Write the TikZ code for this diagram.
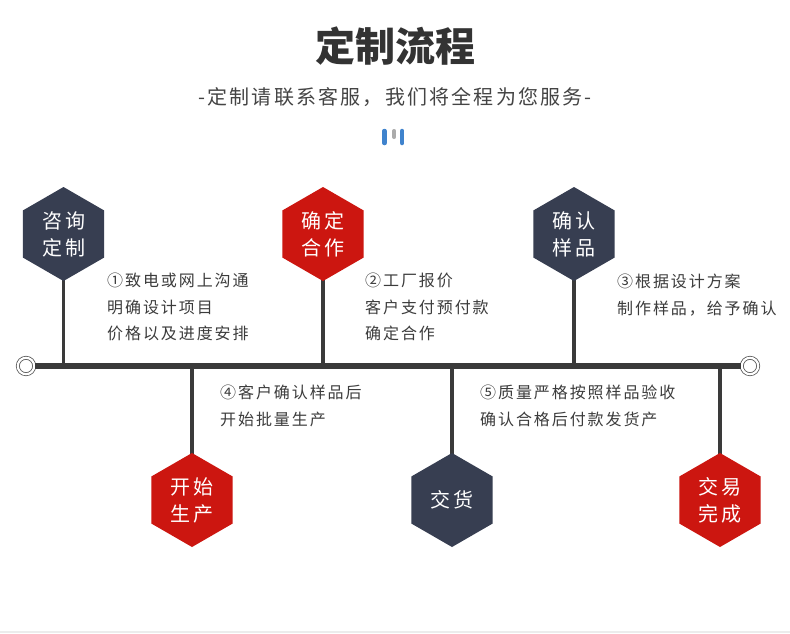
\documentclass[tikz,border=0pt]{standalone}
\usepackage{fontspec}
\setmainfont{Noto Sans CJK SC}
\usetikzlibrary{shapes.geometric,backgrounds}
\definecolor{navy}{HTML}{373E51}
\definecolor{redc}{HTML}{CC1610}
\definecolor{linec}{HTML}{3A3A3A}
\definecolor{txt}{HTML}{3C3C3C}
\definecolor{titlec}{HTML}{333333}
\definecolor{subc}{HTML}{444444}
\definecolor{bluebar}{HTML}{3F83CD}
\definecolor{graybar}{HTML}{ABABAB}
\definecolor{footc}{HTML}{ECECEC}
\begin{document}
\begin{tikzpicture}[x=1pt,y=-1pt,
 hexbox/.style={regular polygon, regular polygon sides=6, shape border rotate=30,
   minimum size=94pt, inner sep=0pt, text=white, align=center,
   font=\fontsize{20}{27}\selectfont\addfontfeature{LetterSpace=15}},
 navyhex/.style={hexbox, fill=navy},
 redhex/.style={hexbox, fill=redc},
 stem/.style={draw=linec, line width=3.5pt},
 mainline/.style={draw=linec, line width=6pt},
 endcirc/.style={circle, draw=black!65, line width=0.8pt, double=white,
   double distance=2.2pt, fill=white, minimum size=16.4pt, inner sep=0pt},
 desc/.style={anchor=north west, inner sep=0pt, align=left, text=txt,
   font=\fontsize{16}{26.5}\selectfont\addfontfeature{LetterSpace=12}},
 bar/.style={line width=4.5pt, line cap=round}
]
\useasboundingbox (0,0) rectangle (790,633);
\begin{scope}[on background layer]
\fill[white] (0,0) rectangle (790,633);
\end{scope}

% header
\node[font=\fontsize{40}{40}\selectfont\bfseries, text=titlec] (title) at (395,46) {定制流程};
\node[font=\fontsize{20}{20}\selectfont\addfontfeature{LetterSpace=11}, text=subc] (sub) at (395,97) {-定制请联系客服，我们将全程为您服务-};
\draw[bar, bluebar] (384.5,131) -- (384.5,143);
\draw[bar, graybar, line width=4pt] (394.2,131) -- (394.2,137);
\draw[bar, bluebar] (402.2,131) -- (402.2,143);

% end circles and main line
\node[endcirc] (cl) at (26,366) {};
\node[endcirc] (cr) at (750,366) {};
\draw[mainline] (cl) -- (cr);

% hexagons
\node[navyhex] (h1) at (63.5,234) {咨询\\定制};
\node[redhex]  (h2) at (323,234) {确定\\合作};
\node[navyhex] (h3) at (574,234) {确认\\样品};
\node[redhex]  (h4) at (192,500) {开始\\生产};
\node[navyhex] (h5) at (452,500) {交货};
\node[redhex]  (h6) at (720,500) {交易\\完成};

\begin{scope}[on background layer]
\foreach \h in {h1,h2,h3,h4,h5,h6}{
  \draw[stem] (\h.center) -- (\h.center |- cl.center);
}
\end{scope}

% descriptions
\node[desc] (d1) at (107,273) {①致电或网上沟通\\明确设计项目\\价格以及进度安排};
\node[desc] (d2) at (365,273) {②工厂报价\\客户支付预付款\\确定合作};
\node[desc] (d3) at (617,274) {③根据设计方案\\制作样品，给予确认};
\node[desc] (d4) at (220,385) {④客户确认样品后\\开始批量生产};
\node[desc] (d5) at (480,385) {⑤质量严格按照样品验收\\确认合格后付款发货产};

% footer line
\draw[draw=footc, line width=1.5pt] (0,632) -- (790,632);
\end{tikzpicture}
\end{document}
